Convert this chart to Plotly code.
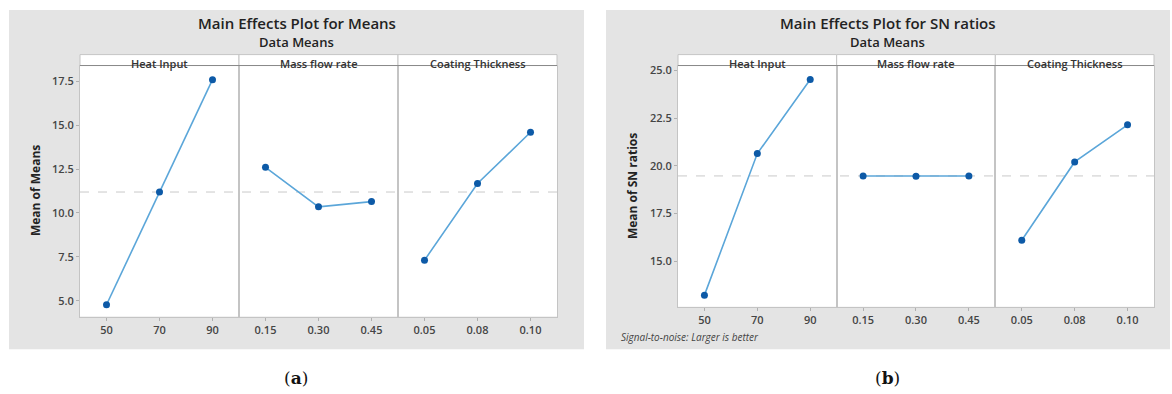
import numpy as np
import plotly.graph_objects as go

W, H = 1172, 394

# ---------------- data ----------------
factors = ["Heat Input", "Mass flow rate", "Coating Thickness"]
heat_levels = ["50", "70", "90"]
mass_levels = ["0.15", "0.30", "0.45"]
coat_levels = ["0.05", "0.08", "0.10"]
levels = [heat_levels, mass_levels, coat_levels]

means_heat = [4.77, 11.19, 17.60]
means_mass = [12.60, 10.35, 10.65]
means_coat = [7.31, 11.68, 14.60]
means_series = [means_heat, means_mass, means_coat]

sn_heat = [13.21, 20.64, 24.53]
sn_mass = [19.46, 19.45, 19.46]
sn_coat = [16.09, 20.20, 22.15]
sn_series = [sn_heat, sn_mass, sn_coat]

means_yticks = [5.0, 7.5, 10.0, 12.5, 15.0, 17.5]
sn_yticks = [15.0, 17.5, 20.0, 22.5, 25.0]

# ---------------- helpers ----------------
def xp(px):
    return px / W

def yp(py):
    return 1 - py / H

GREY_BG = "#e4e4e4"
LINE_C = "#5ba6d9"
MARK_C = "#0d5aa7"
FRAME_C = "#c4c4c4"
TICK_FONT = dict(family="Open Sans", size=11, color="#454545", weight=600)

fig = go.Figure()
shapes = []
annotations = []

charts = [
    dict(series=means_series, yticks=means_yticks, left=80, right=557, top=52, strip=63,
         bottom=316, yrange=[5.0 - (316 - 300) / 17.68, 17.5 + (79 - 63) / 17.68],
         bg=(9, 7, 584, 349), title="Main Effects Plot for Means", ylabel="Mean of Means",
         ylab_x=35, caption="(<b>a</b>)", cap_x=296),
    dict(series=sn_series, yticks=sn_yticks, left=678, right=1154, top=52, strip=63,
         bottom=306, yrange=[15.0 - (306 - 260) / 19.2, 25.0 + (68 - 63) / 19.2],
         bg=(606, 7, 1170, 349), title="Main Effects Plot for SN ratios", ylabel="Mean of SN ratios",
         ylab_x=632, caption="(<b>b</b>)", cap_x=888),
]

ax = 0
for ci, ch in enumerate(charts):
    bx0, by0, bx1, by1 = ch["bg"]
    shapes.append(dict(type="rect", xref="paper", yref="paper", x0=xp(bx0), x1=xp(bx1),
                       y0=yp(by1), y1=yp(by0), fillcolor=GREY_BG, line=dict(width=0), layer="below"))
    shapes.append(dict(type="rect", xref="paper", yref="paper", x0=xp(ch["left"]), x1=xp(ch["right"]),
                       y0=yp(ch["bottom"]), y1=yp(ch["top"]), fillcolor="white", line=dict(width=0),
                       layer="below"))
    pw = (ch["right"] - ch["left"]) / 3
    first_y = None
    vals_all = []
    for fi in range(3):
        ax += 1
        xa = "x" if ax == 1 else f"x{ax}"
        ya = "y" if ax == 1 else f"y{ax}"
        x0 = ch["left"] + fi * pw
        x1 = x0 + pw
        ys = ch["series"][fi]
        vals_all += ys
        fig.add_trace(go.Scatter(
            x=levels[fi], y=ys, xaxis=xa, yaxis=ya, mode="lines+markers",
            line=dict(color=LINE_C, width=1.6),
            marker=dict(color=MARK_C, size=7), showlegend=False, hoverinfo="x+y"))
        xkey = "xaxis" if ax == 1 else f"xaxis{ax}"
        ykey = "yaxis" if ax == 1 else f"yaxis{ax}"
        fig.layout[xkey] = dict(
            domain=[xp(x0), xp(x1)], anchor=ya, type="category",
            categoryorder="array", categoryarray=levels[fi], range=[-0.5, 2.5],
            showgrid=False, zeroline=False, showline=True, mirror=True, linecolor=FRAME_C,
            linewidth=1, ticks="outside", ticklen=3, tickcolor="#b0b0b0",
            tickfont=TICK_FONT, fixedrange=True)
        yd = dict(domain=[yp(ch["bottom"]), yp(ch["strip"])], anchor=xa, range=ch["yrange"],
                  showgrid=False, zeroline=False, showline=True, mirror=True, linecolor=FRAME_C,
                  linewidth=1, fixedrange=True)
        if fi == 0:
            first_y = ya
            yd.update(tickvals=ch["yticks"], ticktext=[f"{v:.1f}" for v in ch["yticks"]],
                      ticks="outside", ticklen=3, tickcolor="#b0b0b0", tickfont=TICK_FONT)
        else:
            yd.update(matches=first_y, showticklabels=False, ticks="")
        fig.layout[ykey] = yd
        # strip header
        shapes.append(dict(type="rect", xref="paper", yref="paper", x0=xp(x0), x1=xp(x1),
                           y0=yp(ch["strip"]), y1=yp(ch["top"]), fillcolor="white",
                           line=dict(color=FRAME_C, width=1), layer="below"))
        annotations.append(dict(xref="paper", yref="paper", x=xp((x0 + x1) / 2), y=yp(61),
                                text=factors[fi], showarrow=False, xanchor="center", yanchor="middle",
                                font=dict(family="Open Sans", size=11, color="#333333", weight=600)))
    # strip bottom line (darker)
    shapes.append(dict(type="line", xref="paper", yref="paper", x0=xp(ch["left"]), x1=xp(ch["right"]),
                       y0=yp(ch["strip"]), y1=yp(ch["strip"]), line=dict(color="#8a8a8a", width=1)))
    # grand mean reference line
    grand = float(np.mean(vals_all))
    shapes.append(dict(type="line", xref="paper", yref=first_y, x0=xp(ch["left"]), x1=xp(ch["right"]),
                       y0=grand, y1=grand, line=dict(color="#c9c9c9", width=1, dash="dash"),
                       layer="below"))
    cx = (bx0 + bx1) / 2
    annotations.append(dict(xref="paper", yref="paper", x=xp(cx), y=yp(20), text=ch["title"],
                            showarrow=False, xanchor="center", yanchor="middle",
                            font=dict(family="Open Sans", size=15, color="#222222", weight=600)))
    annotations.append(dict(xref="paper", yref="paper", x=xp(cx), y=yp(39), text="Data Means",
                            showarrow=False, xanchor="center", yanchor="middle",
                            font=dict(family="Open Sans", size=13, color="#222222", weight=600)))
    annotations.append(dict(xref="paper", yref="paper", x=xp(ch["ylab_x"]),
                            y=yp((ch["strip"] + ch["bottom"]) / 2), text=ch["ylabel"], textangle=-90,
                            showarrow=False, xanchor="center", yanchor="middle",
                            font=dict(family="Open Sans", size=12, color="#222222", weight=700)))
    annotations.append(dict(xref="paper", yref="paper", x=xp(ch["cap_x"]), y=yp(378), text=ch["caption"],
                            showarrow=False, xanchor="center", yanchor="middle",
                            font=dict(family="DejaVu Serif", size=17, color="#111111")))

annotations.append(dict(xref="paper", yref="paper", x=xp(619), y=yp(337),
                        text="<i>Signal-to-noise: Larger is better</i>", showarrow=False,
                        xanchor="left", yanchor="middle",
                        font=dict(family="Open Sans", size=10, color="#444444")))

fig.update_layout(width=W, height=H, margin=dict(l=0, r=0, t=0, b=0),
                  paper_bgcolor="white", plot_bgcolor="rgba(0,0,0,0)",
                  shapes=shapes, annotations=annotations, showlegend=False)

fig.write_html("out.html", config={"displayModeBar": False},
               post_script="document.body.style.margin='0px';document.body.style.overflow='hidden';")
